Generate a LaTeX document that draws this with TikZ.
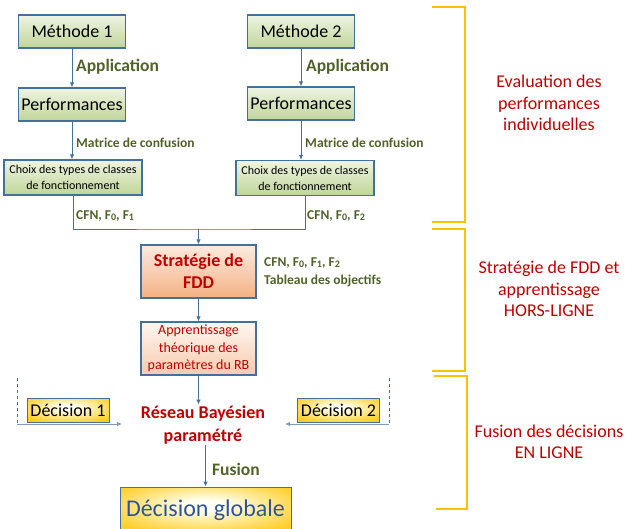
\documentclass[tikz,border=0pt]{standalone}
\usepackage{fontspec}
\setmainfont{Carlito}
\usetikzlibrary{arrows.meta}
\definecolor{dgreen}{HTML}{4F6228}
\definecolor{dred}{HTML}{C00000}
\definecolor{bord}{HTML}{41719C}
\definecolor{arr}{HTML}{4A6F98}
\definecolor{gtop}{HTML}{EEF4E3}
\definecolor{gbot}{HTML}{C0D598}
\definecolor{stop}{HTML}{FDEBE0}
\definecolor{sbot}{HTML}{F4B183}
\definecolor{atop}{HTML}{FEF6F1}
\definecolor{abot}{HTML}{F8CBAD}
\definecolor{yel}{HTML}{FFC000}
\definecolor{gblue}{HTML}{2F5597}
\pgfdeclareradialshading{decshade}{\pgfpoint{0bp}{6bp}}{rgb(0bp)=(1,1,1); rgb(6bp)=(1,1,0.93); rgb(30bp)=(1,0.82,0.2); rgb(48bp)=(0.97,0.72,0.0); rgb(75bp)=(0.97,0.70,0.0)}
\newcommand{\sbx}[1]{\raisebox{-0.8pt}{\fontsize{10}{10}\selectfont #1}}
\begin{document}
\begin{tikzpicture}[x=1pt,y=-1pt,
  greenbox/.style={draw=bord, line width=1.1pt, top color=gtop, bottom color=gbot,
    minimum width=107pt, minimum height=33pt, inner sep=0pt, font=\fontsize{18}{20}\selectfont},
  choixbox/.style={greenbox, minimum width=138pt, minimum height=35pt, align=center,
    font=\fontsize{12}{16}\selectfont},
  orangebox/.style={draw=bord, line width=1.1pt, top color=stop, bottom color=sbot,
    minimum width=115pt, minimum height=53pt, inner sep=0pt, align=center, text=dred},
  lbl/.style={text=dgreen, anchor=west, inner sep=0pt, font=\bfseries\fontsize{13.5}{18}\selectfont},
  biglbl/.style={lbl, font=\bfseries\fontsize{17.5}{20}\selectfont},
  link/.style={draw=arr, line width=0.9pt, -{Latex[length=5pt,width=4.5pt]}},
  plainlink/.style={draw=arr, line width=0.9pt},
  brk/.style={draw=yel, line width=2.8pt},
  side/.style={text=dred, align=center, inner sep=0pt, font=\fontsize{18}{21.5}\selectfont},
  dec/.style={draw=bord, line width=0.8pt, shade, shading=decshade, minimum width=82pt,
    minimum height=24pt, inner sep=0pt, font=\fontsize{18}{20}\selectfont}
]
\useasboundingbox (0,0) rectangle (640,528);
\clip (0,0) rectangle (640,528);

% column 1
\node[greenbox] (m1) at (72,31.5) {Méthode 1};
\node[greenbox] (p1) at (72,104.5) {Performances};
\node[choixbox] (c1) at (73,177.5) {Choix des types de classes\\de fonctionnement};
% column 2
\node[greenbox] (m2) at (301,31.5) {Méthode 2};
\node[greenbox] (p2) at (301,103.5) {Performances};
\node[choixbox] (c2) at (305,178) {Choix des types de classes\\de fonctionnement};

\draw[link] (m1) -- (p1);
\draw[link] (p1) -- (p1.south |- c1.north);
\draw[link] (m2) -- (p2);
\draw[link] (p2) -- (p2.south |- c2.north);

\node[biglbl] (ap1) at (76,67) {Application};
\node[biglbl] (ap2) at (306,67) {Application};
\node[lbl] (mc1) at (76,143) {Matrice de confusion};
\node[lbl] (mc2) at (305,143) {Matrice de confusion};
\node[lbl] (f1) at (76,216) {CFN, F\sbx{0}, F\sbx{1}};
\node[lbl] (f2) at (307,216) {CFN, F\sbx{0}, F\sbx{2}};

% middle
\node[orangebox, font=\bfseries\fontsize{18}{22}\selectfont] (s) at (198.5,271.5) {Stratégie de\\FDD};
\node[orangebox, top color=atop, bottom color=abot, font=\fontsize{14}{17.5}\selectfont] (a) at (198.5,348.5) {Apprentissage\\théorique des\\paramètres du RB};
\coordinate (j) at (198.5,229);
\draw[plainlink] (c1.south) |- (j) -| (c2.south);
\draw[link] (j) -- (s.north);
\draw[link] (s) -- (a);
\node[lbl, align=left] (obj) at (264,272) {CFN, F\sbx{0}, F\sbx{1}, F\sbx{2}\\Tableau des objectifs};

\node[text=dred, align=center, inner sep=1pt, font=\bfseries\fontsize{18}{23}\selectfont] (r) at (203,425) {Réseau Bayésien\\paramétré};
\draw[link] (a.south) -- (a.south |- r.north);

\node[dec] (d1) at (68,410) {Décision 1};
\node[dec] (d2) at (338.5,410) {Décision 2};

\coordinate (l1) at (17,378);
\coordinate (l2) at (17,424);
\coordinate (l3) at (122,424);
\coordinate (q1) at (389,378);
\coordinate (q2) at (389,424);
\coordinate (q3) at (285,424);
\draw[draw=arr, line width=0.9pt, dashed] (l1) -- (l2);
\draw[draw=arr, line width=0.9pt, dashed] (q1) -- (q2);
\draw[draw=arr!70, line width=0.8pt, -{Latex[length=5pt,width=4.5pt]}] (l2) -- (l3);
\draw[draw=arr!70, line width=0.8pt, -{Latex[length=5pt,width=4.5pt]}] (q2) -- (q3);

\node[dec, minimum width=171pt, minimum height=46pt, text=gblue, font=\fontsize{24}{26}\selectfont] (g) at (205.5,510) {Décision globale};
\draw[link] (r.south -| g.north) -- (g.north);
\node[biglbl] (fu) at (212,469) {Fusion};

% brackets
\draw[brk] (432,7) -- (465,7) -- (465,222) -- (432,222);
\draw[brk] (432,229) -- (465,229) -- (465,371) -- (432,371);
\draw[brk] (434,376) -- (467,376) -- (467,509) -- (436,509);

\node[side] (t1) at (549,103) {Evaluation des\\performances\\individuelles};
\node[side] (t2) at (549,289) {Stratégie de FDD et\\apprentissage\\HORS-LIGNE};
\node[side] (t3) at (549,442) {Fusion des décisions\\EN LIGNE};
\end{tikzpicture}
\end{document}
